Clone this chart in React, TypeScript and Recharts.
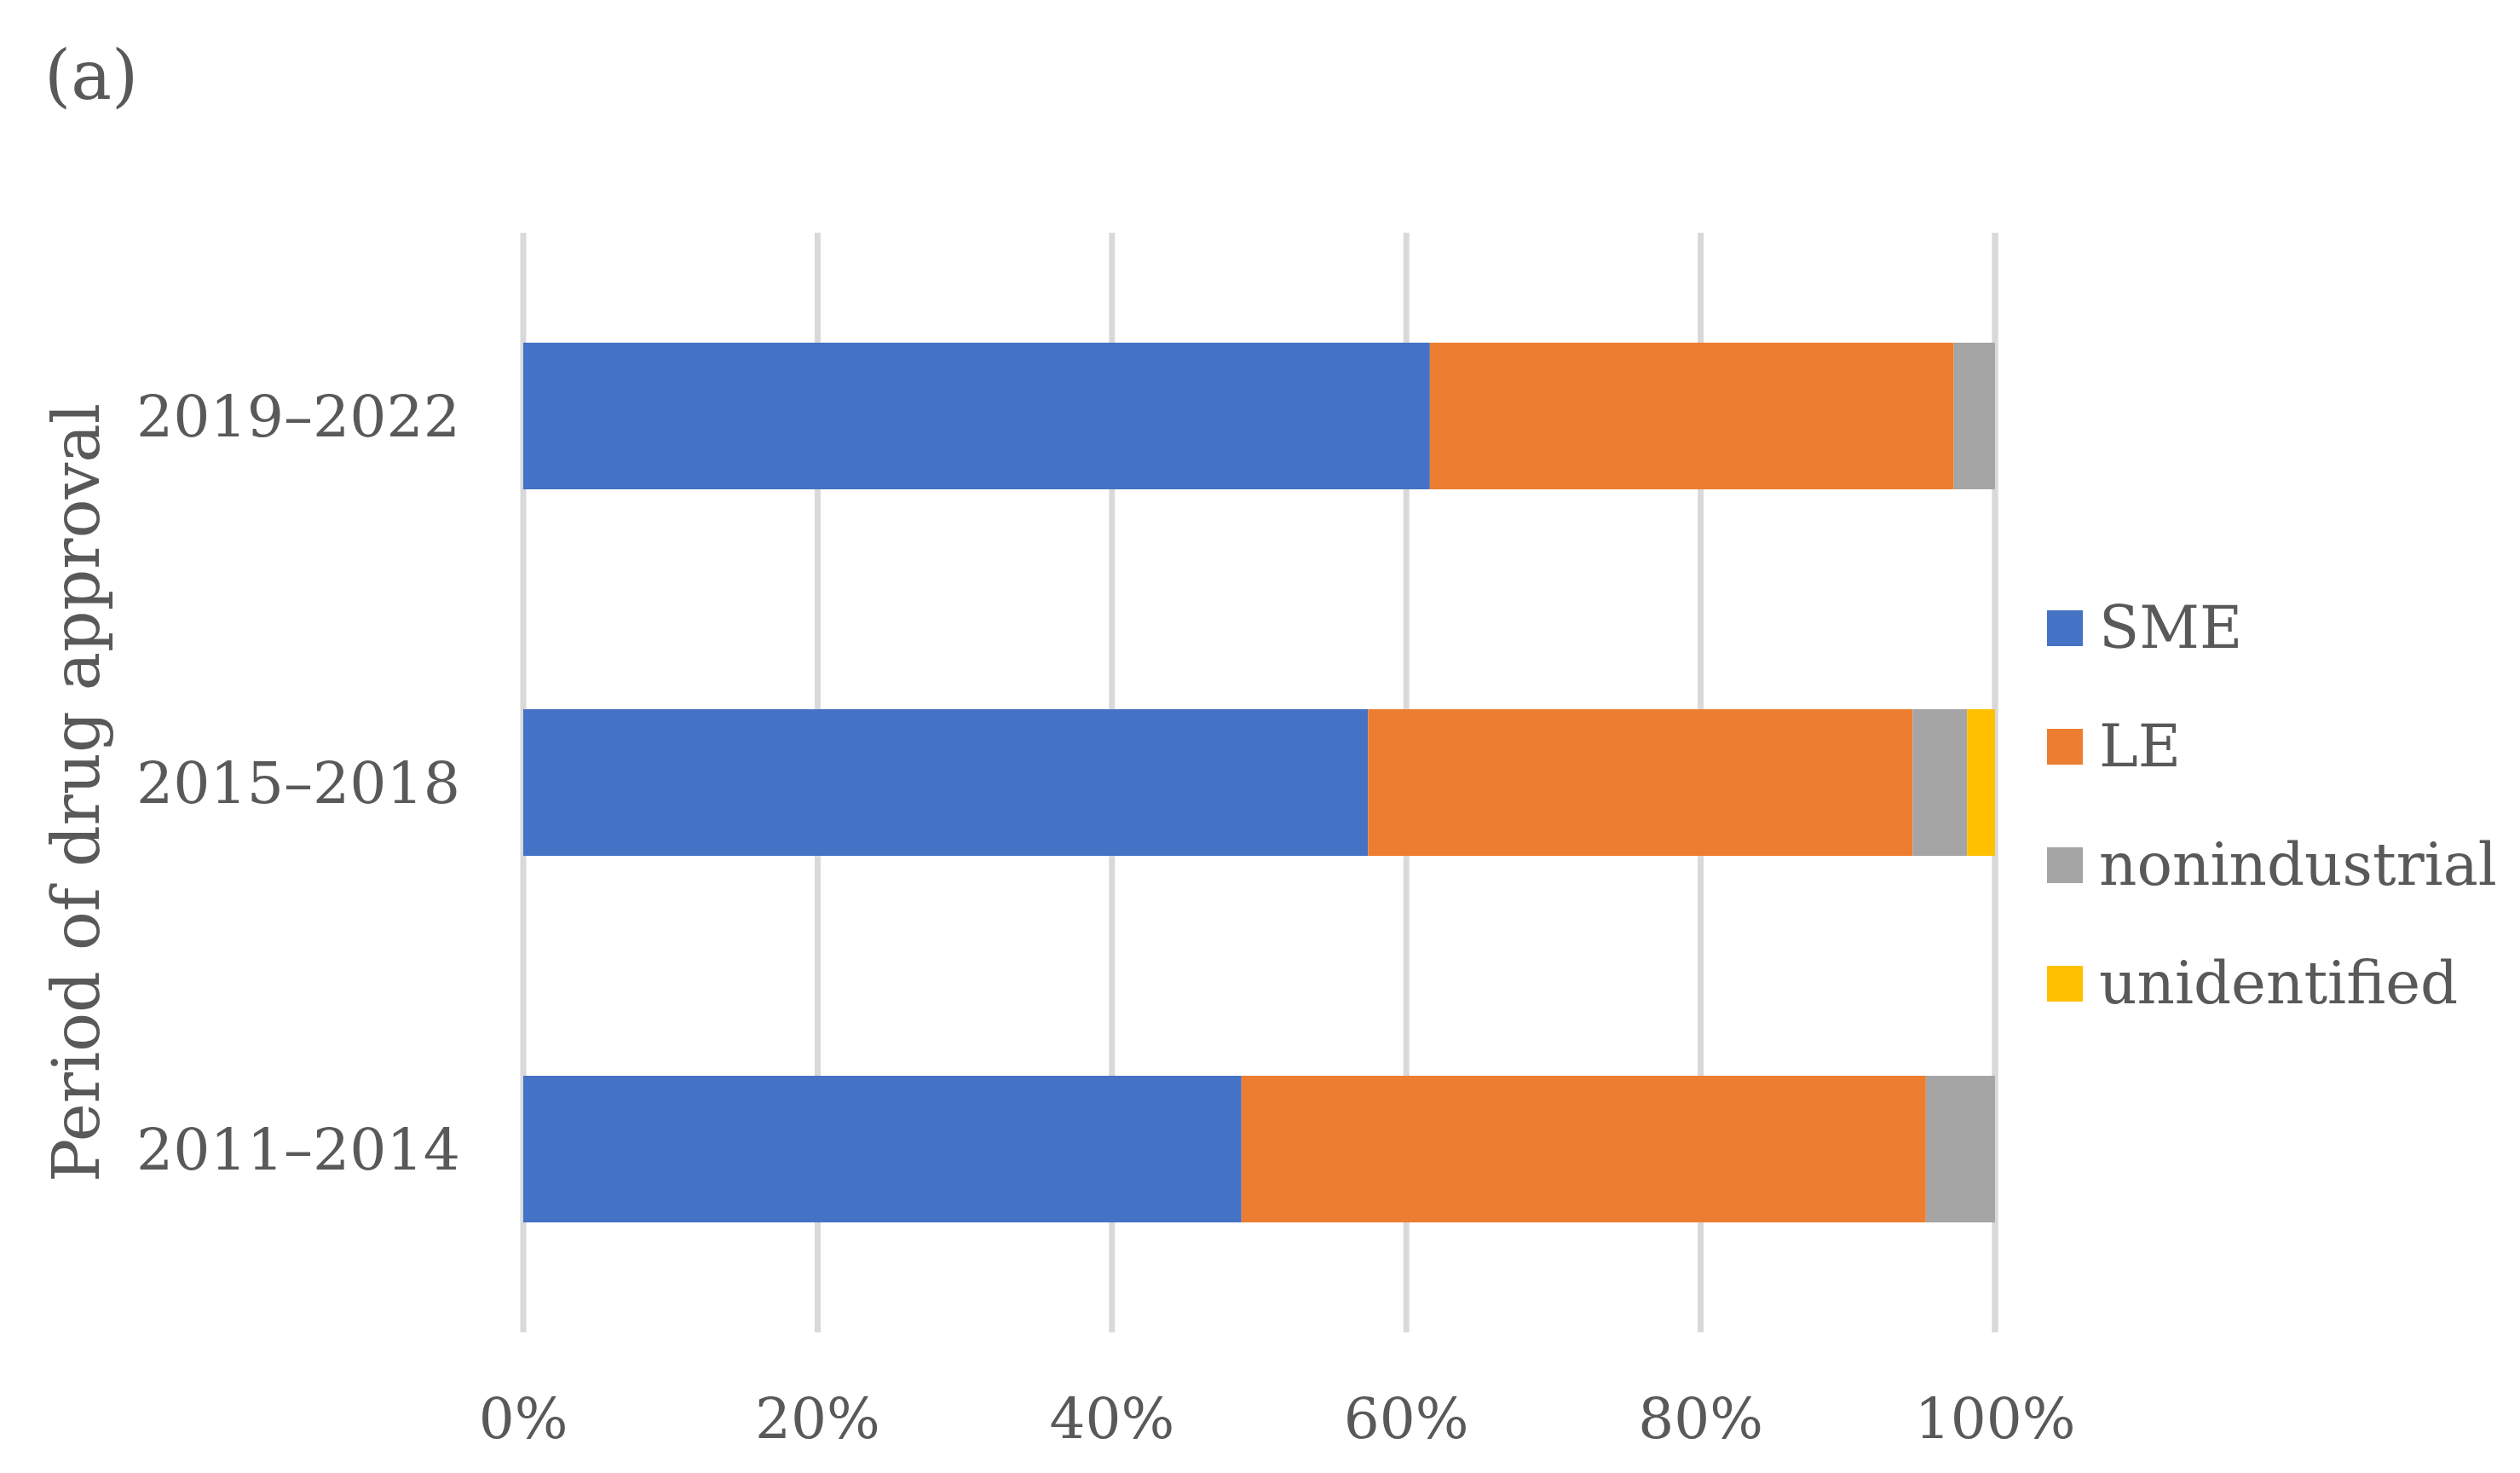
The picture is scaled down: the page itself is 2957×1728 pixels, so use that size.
import { BarChart, Bar, XAxis, YAxis, CartesianGrid, Legend } from 'recharts'

// shares per approval period, in percent (top bar first)
const periods = ['2019–2022', '2015–2018', '2011–2014']
const sme = [61.6, 57.4, 48.8]
const le = [35.6, 37.0, 46.5]
const nonindustrial = [2.8, 3.7, 4.7]
const unidentified = [0, 1.9, 0]
const xTicks = [0, 20, 40, 60, 80, 100]

const SERIES = [
  { key: 'sme', name: 'SME', color: '#4472C4' },
  { key: 'le', name: 'LE', color: '#ED7D31' },
  { key: 'nonindustrial', name: 'nonindustrial', color: '#A5A5A5' },
  { key: 'unidentified', name: 'unidentified', color: '#FFC000' },
]

const FONT = '"DejaVu Serif", serif'
const TEXT = '#595959'

const data = periods.map((period, i) => ({
  period,
  sme: sme[i],
  le: le[i],
  nonindustrial: nonindustrial[i],
  unidentified: unidentified[i],
}))

function LegendBox() {
  return (
    <div style={{ fontFamily: FONT, color: TEXT }}>
      {SERIES.map(s => (
        <div key={s.key} style={{ display: 'flex', alignItems: 'center', height: 139 }}>
          <span style={{ width: 42, height: 42, background: s.color, marginRight: 19, flex: 'none' }} />
          <span style={{ fontSize: 69, lineHeight: 1, whiteSpace: 'nowrap' }}>{s.name}</span>
        </div>
      ))}
    </div>
  )
}

function AxisTitle(props: any) {
  const { viewBox } = props
  const x = 116
  const y = viewBox.y + viewBox.height / 2 + 12
  return (
    <text
      x={x}
      y={y}
      transform={`rotate(-90, ${x}, ${y})`}
      textAnchor="middle"
      fill={TEXT}
      fontFamily={FONT}
      fontSize={76}
    >
      Period of drug approval
    </text>
  )
}

export default function App() {
  return (
    <div style={{ position: 'absolute', left: 0, top: 0, width: 2957, height: 1728, background: '#fff' }}>
      <div
        style={{
          position: 'absolute', left: 52, top: 49, fontFamily: FONT, fontSize: 80,
          lineHeight: '80px', color: TEXT,
        }}
      >
        (a)
      </div>
      <BarChart
        width={2957}
        height={1728}
        data={data}
        layout="vertical"
        barCategoryGap="30%"
        margin={{ top: 273, right: 616, left: 174, bottom: 35 }}
      >
        <CartesianGrid horizontal={false} stroke="#d9d9d9" strokeWidth={7} />
        <XAxis
          type="number"
          domain={[0, 100]}
          ticks={xTicks}
          tickFormatter={v => `${v}%`}
          axisLine={false}
          tickLine={false}
          tickMargin={71}
          height={130}
          tick={{ fontSize: 66, fill: TEXT, fontFamily: FONT }}
        />
        <YAxis
          type="category"
          dataKey="period"
          width={440}
          axisLine={false}
          tickLine={false}
          tickMargin={68}
          tick={{ fontSize: 68, fill: TEXT, fontFamily: FONT }}
          label={{ content: AxisTitle }}
        />
        <Legend
          layout="vertical"
          align="center"
          verticalAlign="middle"
          content={() => <LegendBox />}
          wrapperStyle={{ left: 2402, top: 667, width: 555 }}
        />
        {SERIES.map(s => (
          <Bar
            key={s.key}
            dataKey={s.key}
            name={s.name}
            stackId="a"
            fill={s.color}
            isAnimationActive={false}
          />
        ))}
      </BarChart>
    </div>
  )
}
